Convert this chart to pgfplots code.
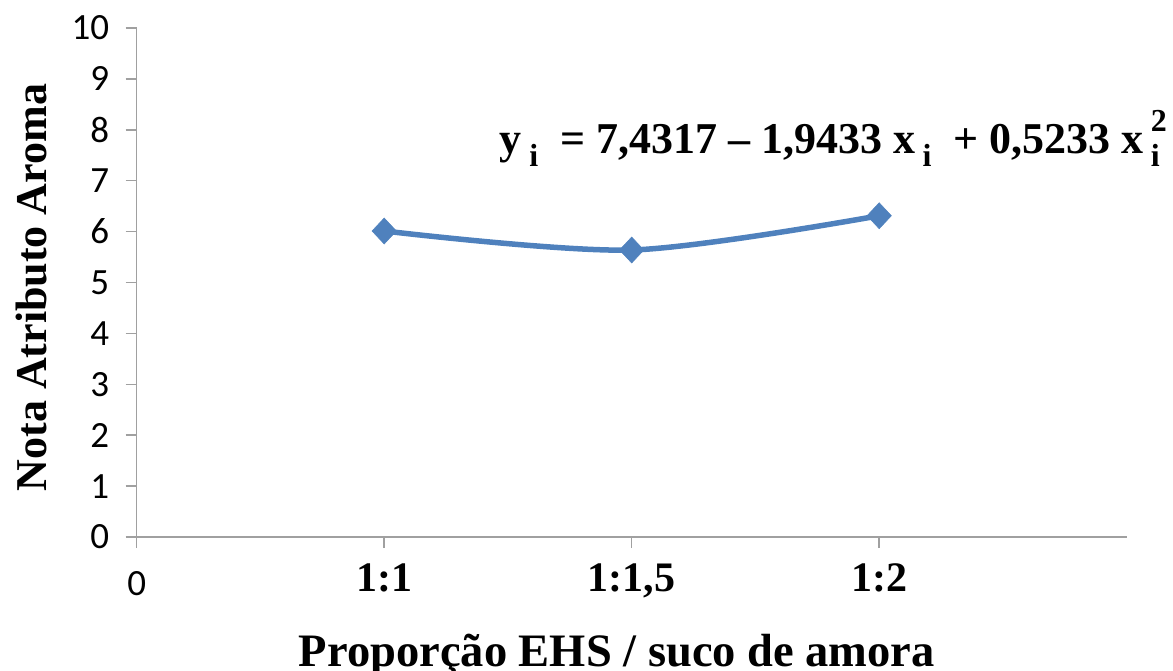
\documentclass[border=0pt]{standalone}
\usepackage{fontspec}
\setmainfont{Liberation Serif}
\newfontfamily\calf{Carlito}
\usepackage{pgfplots}
\pgfplotsset{compat=1.18}
\definecolor{serblue}{HTML}{4F81BD}
\definecolor{axgray}{HTML}{A0A0A0}
\begin{document}
\begin{tikzpicture}
\begin{axis}[
  name=ax,
  scale only axis,
  width=990pt, height=509pt,
  xmin=0, xmax=4, ymin=0, ymax=10,
  axis x line=bottom, axis y line=left,
  axis line style={axgray, line width=1.5pt, -},
  xtick={0,1,2,3},
  xticklabels={{\raisebox{0pt}[32pt][0pt]{\calf\mdseries\fontsize{37}{40}\selectfont 0}},1:1,{1:1,5},1:2},
  xticklabel style={font=\fontsize{42}{50}\selectfont\bfseries, anchor=north, yshift=-12pt},
  ytick={0,1,...,10},
  yticklabel style={font=\calf\fontsize{37}{40}\selectfont, xshift=-13pt},
  /pgf/number format/assume math mode=true,
  tick align=outside,
  major tick length=11pt,
  tick style={axgray, line width=1.5pt},
  xlabel={Proporção EHS / suco de amora},
  ylabel={Nota Atributo Aroma},
  xlabel style={font=\fontsize{46.5}{50}\selectfont\bfseries, at={(axis description cs:0.485,0)}, anchor=north, yshift=-94pt},
  ylabel style={font=\fontsize{44}{50}\selectfont\bfseries, at={(axis description cs:0,0.49)}, anchor=south, yshift=86pt},
  clip=false,
]
\addplot[serblue, line width=5.5pt, smooth, mark=diamond*, mark size=13pt,
  mark options={xscale=1.25, solid, fill=serblue, draw=serblue, line width=0.5pt}]
  coordinates {(1,6.0117) (2,5.6383) (3,6.3115)};
\node[anchor=base west, inner sep=0pt, font=\fontsize{44}{50}\selectfont\bfseries]
  at (axis cs:1.467,7.54)
  {y\,\raisebox{-0.3em}{\fontsize{32}{36}\selectfont i}\ \ = 7,4317 – 1,9433 x\,\raisebox{-0.3em}{\fontsize{32}{36}\selectfont i}\ \ + 0,5233 x\,\makebox[0pt][l]{\raisebox{0.5em}{\fontsize{32}{36}\selectfont 2}}\raisebox{-0.3em}{\fontsize{32}{36}\selectfont i}};
\end{axis}
\pgfresetboundingbox
\path[use as bounding box] ([shift={(-136.7pt,-133pt)}]ax.south west) rectangle ([shift={(1036.3pt,537pt)}]ax.south west);
\end{tikzpicture}
\end{document}
